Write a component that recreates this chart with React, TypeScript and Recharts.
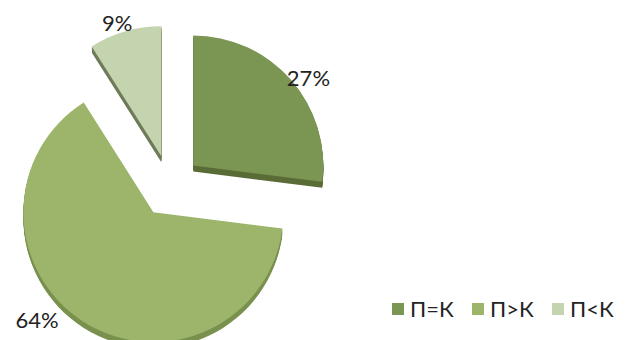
import { PieChart, Pie, Sector, Legend } from "recharts";

const categories = ["П=К", "П>К", "П<К"];
const shares = [27, 64, 9];

const COLORS = ["#7B9552", "#9CB56B", "#C4D4AF"];
const SIDE_COLORS = ["#5A6C37", "#7A914F", "#6F7B5A"];

const data = categories.map((name, i) => ({ name, value: shares[i] }));

const RADIAN = Math.PI / 180;
const EXPLODE = 31;
const DEPTH = 6;
// label distance past the rim and angular nudge (deg), per slice
const labelGap = [15, 28, 11];
const labelShift = [-4, -15, 2];

function ExplodedSlice(props: any) {
  const { cx, cy, outerRadius, startAngle, endAngle, midAngle, index, value } = props;
  const x0 = cx + EXPLODE * Math.cos(-midAngle * RADIAN);
  const y0 = cy + EXPLODE * Math.sin(-midAngle * RADIAN);
  const la = (midAngle + labelShift[index]) * RADIAN;
  const lr = outerRadius + labelGap[index];
  const lx = x0 + lr * Math.cos(-la);
  const ly = y0 + lr * Math.sin(-la);

  const side = [];
  for (let d = DEPTH; d > 0; d -= 1) {
    side.push(
      <Sector
        key={d}
        cx={x0}
        cy={y0 + d}
        innerRadius={0}
        outerRadius={outerRadius}
        startAngle={startAngle}
        endAngle={endAngle}
        fill={SIDE_COLORS[index]}
        stroke="none"
      />
    );
  }

  return (
    <g>
      {side}
      <Sector
        cx={x0}
        cy={y0}
        innerRadius={0}
        outerRadius={outerRadius}
        startAngle={startAngle}
        endAngle={endAngle}
        fill={COLORS[index]}
        stroke="none"
      />
      <text
        x={lx}
        y={ly}
        textAnchor="middle"
        dominantBaseline="central"
        fontSize={22}
        fill="#222"
      >
        {value}%
      </text>
    </g>
  );
}

function LegendContent() {
  return (
    <div style={{ display: "flex", alignItems: "center" }}>
      {categories.map((name, i) => (
        <div
          key={name}
          style={{ display: "flex", alignItems: "center", width: 85 }}
        >
          <span
            style={{
              display: "inline-block",
              width: 12,
              height: 12,
              background: COLORS[i],
              marginRight: 6,
            }}
          />
          <span style={{ fontSize: 22, color: "#222", lineHeight: "24px" }}>{name}</span>
        </div>
      ))}
    </div>
  );
}

export default function App() {
  return (
    <div
      style={{
        position: "absolute",
        left: 0,
        top: 0,
        width: 632,
        height: 340,
        background: "#fff",
        fontFamily: "Lato, sans-serif",
      }}
    >
      <PieChart width={632} height={340} margin={{ top: 0, right: 0, bottom: 0, left: 0 }}>
        <Pie
          data={data}
          dataKey="value"
          nameKey="name"
          cx={170}
          cy={186}
          outerRadius={130}
          startAngle={90}
          endAngle={-270}
          fill="none"
          stroke="none"
          labelLine={false}
          label={ExplodedSlice}
          isAnimationActive={false}
        />
        <Legend
          content={LegendContent}
          wrapperStyle={{ left: 392, top: 297, width: 240 }}
        />
      </PieChart>
    </div>
  );
}
